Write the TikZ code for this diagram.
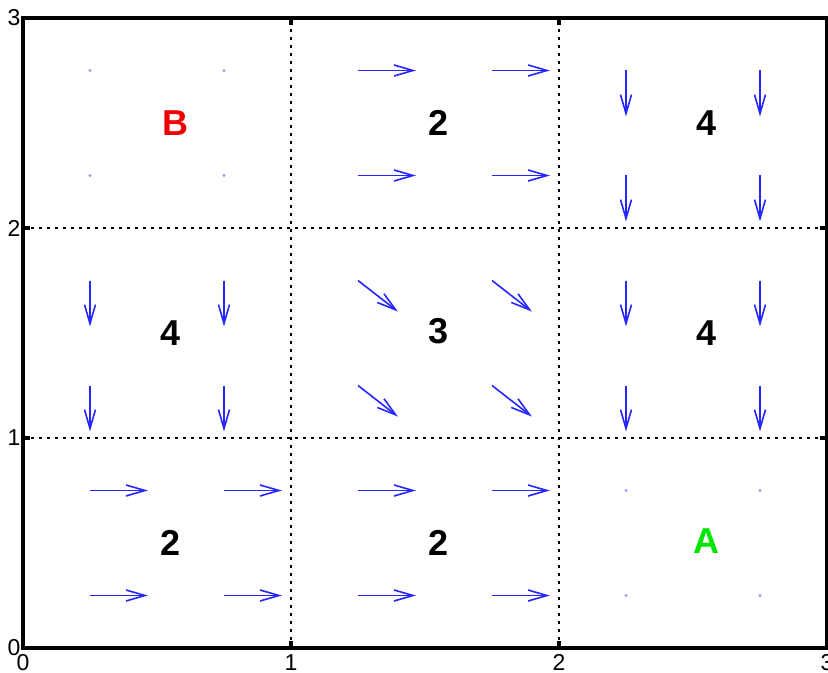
\documentclass[tikz,border=0pt]{standalone}
\usepackage{fontspec}
\setmainfont{Liberation Sans}
\usetikzlibrary{arrows.meta}
\definecolor{pureblue}{RGB}{0,0,255}
\definecolor{puregreen}{RGB}{0,230,0}
\definecolor{purered}{RGB}{240,0,0}
\begin{document}
\begin{tikzpicture}[x=134pt,y=105pt,
  frame/.style={line width=2pt},
  tickmark/.style={line width=2pt},
  gridline/.style={line width=1.3pt, dash pattern=on 1.3pt off 2.7pt},
  qv/.style={pureblue!85, line width=0.8pt, -{Straight Barb[length=9.5pt,width=5.5pt]}},
  zerodot/.style={fill=pureblue!40, draw=none},
  cellnum/.style={font=\fontsize{18}{18}\selectfont\bfseries, inner sep=0pt},
  ticklab/.style={font=\fontsize{11.5}{11.5}\selectfont, inner sep=0pt}]
\useasboundingbox (-0.0858,-0.119) rectangle (3.0037,3.0857);
\fill[white] (-0.0858,-0.119) rectangle (3.0037,3.0857);
% grid lines
\draw[gridline] (1,0) -- (1,3);
\draw[gridline] (2,0) -- (2,3);
\draw[gridline] (0,1) -- (3,1);
\draw[gridline] (0,2) -- (3,2);
% frame
\draw[frame] (0,0) rectangle (3,3);
% ticks
\foreach \v in {1,2} {
  \draw[tickmark] (\v,0) -- ++(0,3.5pt);
  \draw[tickmark] (\v,3) -- ++(0,-3.5pt);
  \draw[tickmark] (0,\v) -- ++(3.5pt,0);
  \draw[tickmark] (3,\v) -- ++(-3.5pt,0);
}
% tick labels
\foreach \v in {0,1,2,3} {
  \node[ticklab, anchor=east] (yl\v) at (-0.008,\v) {\v};
  \node[ticklab, anchor=north] (xl\v) at (\v,-0.03) {\v};
}
% rightward arrows
\foreach \c/\r in {0/0,1/0,1/2}
  \foreach \dx in {0.25,0.75}
    \foreach \dy in {0.25,0.75}
      \draw[qv] (\c+\dx,\r+\dy) -- ++(0.216,0);
% downward arrows
\foreach \c/\r in {0/1,2/1,2/2}
  \foreach \dx in {0.25,0.75}
    \foreach \dy in {0.25,0.75}
      \draw[qv] (\c+\dx,\r+\dy) -- ++(0,-0.219);
% diagonal arrows
\foreach \dx in {0.25,0.75}
  \foreach \dy in {0.25,0.75}
    \draw[qv] (1+\dx,1+\dy) -- ++(0.149,-0.148);
% zero vectors
\foreach \c/\r in {2/0,0/2}
  \foreach \dx in {0.25,0.75}
    \foreach \dy in {0.25,0.75}
      \fill[zerodot] (\c+\dx,\r+\dy) circle (0.8pt);
% cell values
\node[cellnum] (c00) at (0.55,0.5) {2};
\node[cellnum] (c10) at (1.55,0.5) {2};
\node[cellnum, text=puregreen] (c20) at (2.55,0.51) {A};
\node[cellnum] (c01) at (0.55,1.5) {4};
\node[cellnum] (c11) at (1.55,1.51) {3};
\node[cellnum] (c21) at (2.55,1.5) {4};
\node[cellnum, text=purered] (c02) at (0.57,2.5) {B};
\node[cellnum] (c12) at (1.55,2.5) {2};
\node[cellnum] (c22) at (2.55,2.5) {4};
\end{tikzpicture}
\end{document}
